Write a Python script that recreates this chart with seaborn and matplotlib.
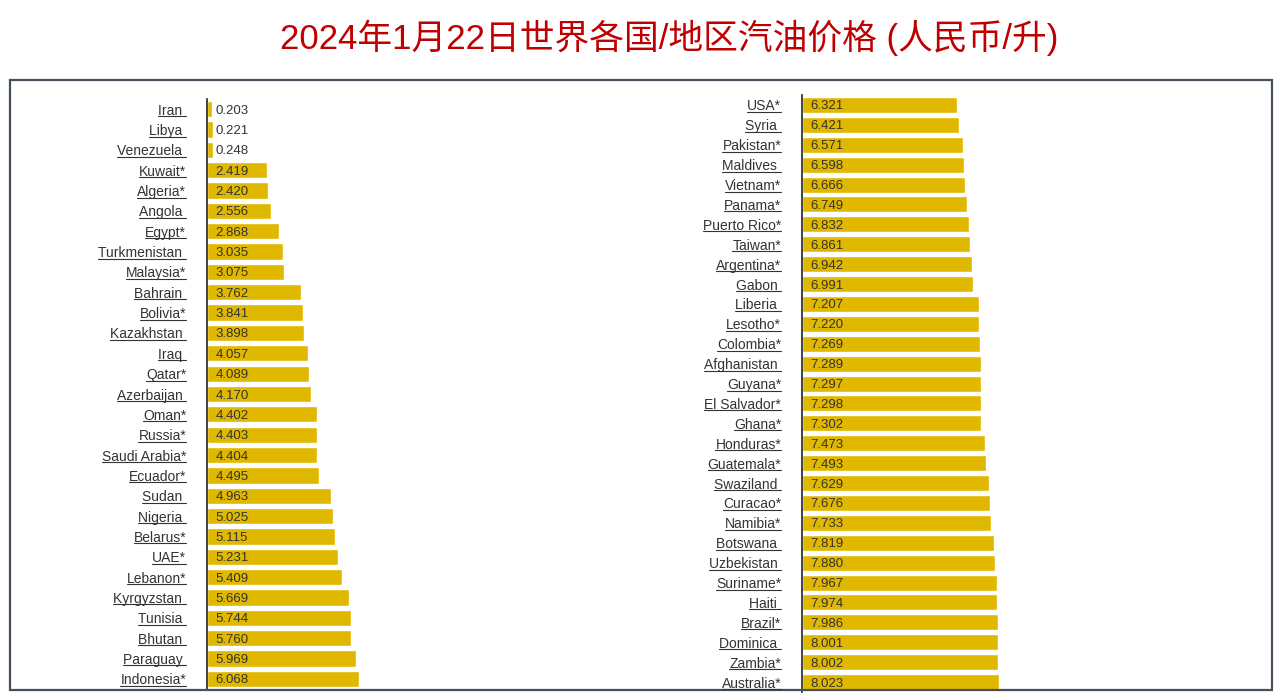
import matplotlib.pyplot as plt
import seaborn as sns
from matplotlib.lines import Line2D
from matplotlib.patches import Rectangle
from matplotlib.transforms import IdentityTransform

# 左侧国家 / 数值
left_names = ['Iran ', 'Libya ', 'Venezuela ', 'Kuwait*', 'Algeria*', 'Angola ', 'Egypt*',
              'Turkmenistan ', 'Malaysia*', 'Bahrain ', 'Bolivia*', 'Kazakhstan ', 'Iraq ',
              'Qatar*', 'Azerbaijan ', 'Oman*', 'Russia*', 'Saudi Arabia*', 'Ecuador*',
              'Sudan ', 'Nigeria ', 'Belarus*', 'UAE*', 'Lebanon*', 'Kyrgyzstan ', 'Tunisia ',
              'Bhutan ', 'Paraguay ', 'Indonesia*']
left_vals = [0.203, 0.221, 0.248, 2.419, 2.420, 2.556, 2.868, 3.035, 3.075, 3.762, 3.841,
             3.898, 4.057, 4.089, 4.170, 4.402, 4.403, 4.404, 4.495, 4.963, 5.025, 5.115,
             5.231, 5.409, 5.669, 5.744, 5.760, 5.969, 6.068]

# 右侧国家 / 数值
right_names = ['USA*', 'Syria ', 'Pakistan*', 'Maldives ', 'Vietnam*', 'Panama*',
               'Puerto Rico*', 'Taiwan*', 'Argentina*', 'Gabon ', 'Liberia ', 'Lesotho*',
               'Colombia*', 'Afghanistan ', 'Guyana*', 'El Salvador*', 'Ghana*', 'Honduras*',
               'Guatemala*', 'Swaziland ', 'Curacao*', 'Namibia*', 'Botswana ', 'Uzbekistan ',
               'Suriname*', 'Haiti ', 'Brazil*', 'Dominica ', 'Zambia*', 'Australia*']
right_vals = [6.321, 6.421, 6.571, 6.598, 6.666, 6.749, 6.832, 6.861, 6.942, 6.991, 7.207,
              7.220, 7.269, 7.289, 7.297, 7.298, 7.302, 7.473, 7.493, 7.629, 7.676, 7.733,
              7.819, 7.880, 7.967, 7.974, 7.986, 8.001, 8.002, 8.023]

title = '2024年1月22日世界各国/地区汽油价格 (人民币/升)'
bar_color = '#e0b800'
text_color = '#333333'

sns.set_style('white')
plt.rcParams['font.family'] = ['Liberation Sans', 'Noto Sans CJK SC', 'DejaVu Sans']

W, H = 1280, 700
fig = plt.figure(figsize=(W / 100, H / 100), dpi=100)


def px_axes(x0, y_top, w, y_bot):
    return fig.add_axes([x0 / W, 1 - y_bot / H, w / W, (y_bot - y_top) / H])


ax1 = px_axes(207, 99, 250, 689)
ax2 = px_axes(802, 95, 245, 692)

for ax, names, vals in [(ax1, left_names, left_vals), (ax2, right_names, right_vals)]:
    sns.barplot(x=vals, y=names, ax=ax, color=bar_color, saturation=1, width=0.8, orient='h')
    ax.set_xlim(0, 10)
    ax.set_ylim(len(names) - 0.5, -0.5)
    ax.set_xlabel('')
    ax.set_ylabel('')
    ax.set_xticks([])
    ax.tick_params(axis='y', length=0, pad=15, labelsize=10, labelcolor=text_color)
    for s in ['top', 'right', 'bottom']:
        ax.spines[s].set_visible(False)
    ax.spines['left'].set_color('#222222')
    ax.spines['left'].set_linewidth(1.2)
    for i, v in enumerate(vals):
        ax.annotate(f'{v:.3f}', (0, i), xytext=(6, 0), textcoords='offset points',
                    va='center_baseline', ha='left', fontsize=9.5, color=text_color)

# 外框
fig.add_artist(Rectangle((10 / W, 1 - 690 / H), 1262 / W, 610 / H, transform=fig.transFigure,
                         fill=False, edgecolor='#46505a', linewidth=1.6))

fig.text(0.523, 1 - 38 / H, title, ha='center', va='center', fontsize=25, color='#c00000',
         family=['Liberation Sans', 'Noto Sans CJK SC', 'DejaVu Sans'])

# 给国家名加下划线
fig.canvas.draw()
renderer = fig.canvas.get_renderer()
for ax in (ax1, ax2):
    for lab in ax.get_yticklabels():
        bb = lab.get_window_extent(renderer)
        y = bb.y0 + 1.5
        fig.add_artist(Line2D([bb.x0, bb.x1], [y, y], transform=IdentityTransform(),
                              color=text_color, linewidth=0.8))

fig.savefig('out.png', dpi=100)
